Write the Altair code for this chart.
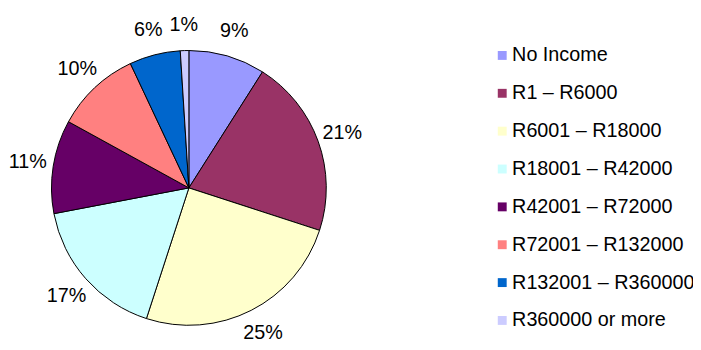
import altair as alt
import pandas as pd

categories = ["No Income", "R1 – R6000", "R6001 – R18000", "R18001 – R42000",
              "R42001 – R72000", "R72001 – R132000", "R132001 – R360000", "R360000 or more"]
shares = [9, 21, 25, 17, 11, 10, 6, 1]
labels = ["9%", "21%", "25%", "17%", "11%", "10%", "6%", "1%"]
colors = ["#9999FF", "#993366", "#FFFFCC", "#CCFFFF", "#660066", "#FF8080", "#0066CC", "#CCCCFF"]

df = pd.DataFrame({
    "cat": categories,
    "share": shares,
    "label": labels,
    "idx": list(range(len(categories))),
})

FONT = "Liberation Sans"

base = alt.Chart(df).encode(
    theta=alt.Theta("share:Q", stack=True),
    order=alt.Order("idx:Q"),
)

pie = base.mark_arc(outerRadius=139, stroke="black", strokeWidth=1).encode(
    x=alt.value(183),
    y=alt.value(180),
    color=alt.Color(
        "cat:N",
        scale=alt.Scale(domain=categories, range=colors),
        sort=categories,
        legend=alt.Legend(
            title=None,
            orient="none",
            legendX=490,
            legendY=36,
            symbolType="square",
            symbolSize=81,
            symbolStrokeWidth=0,
            labelFont=FONT,
            labelFontSize=20,
            labelColor="black",
            labelOffset=0,
            rowPadding=18.3,
            padding=0,
            labelLimit=300,
        ),
    ),
)

text = base.mark_text(font=FONT, fontSize=20, color="black").encode(
    x=alt.value(183),
    y=alt.value(180),
    radius=alt.value(165),
    text="label:N",
)

chart = alt.layer(pie, text).properties(
    width=693,
    height=342,
    padding=0,
    autosize=alt.AutoSizeParams(type="none"),
).configure(background="white").configure_view(stroke=None)

chart.save("out.html", embed_options={"renderer": "svg", "actions": False})
